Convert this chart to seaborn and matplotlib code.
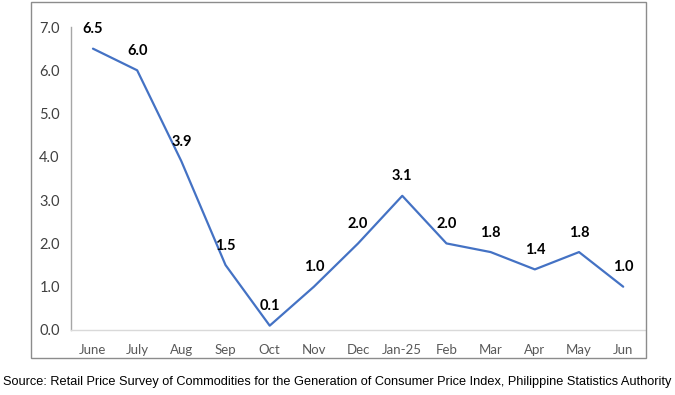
import numpy as np
import pandas as pd
import seaborn as sns
import matplotlib.pyplot as plt
from matplotlib.patches import Rectangle

months = ['June', 'July', 'Aug', 'Sep', 'Oct', 'Nov', 'Dec', 'Jan-25',
          'Feb', 'Mar', 'Apr', 'May', 'Jun']
inflation = [6.5, 6.0, 3.9, 1.5, 0.1, 1.0, 2.0, 3.1, 2.0, 1.8, 1.4, 1.8, 1.0]
y_ticks = [0.0, 1.0, 2.0, 3.0, 4.0, 5.0, 6.0, 7.0]

df = pd.DataFrame({'pos': np.arange(len(months)), 'month': months, 'value': inflation})

sns.set_style('white')
plt.rcParams['font.family'] = ['Lato', 'DejaVu Sans']

fig = plt.figure(figsize=(6.75, 3.95), dpi=100)
ax = fig.add_axes([0.105, 0.1646, 0.851, 0.767])

sns.lineplot(data=df, x='pos', y='value', color='#4472C4', linewidth=1.6, ax=ax)

for x, v in zip(df['pos'], df['value']):
    ax.annotate(f'{v:.1f}', (x, v), xytext=(0, 9), textcoords='offset points',
                ha='center', va='bottom', fontsize=10.5, fontweight='bold', color='black')

ax.set_xlim(-0.5, len(months) - 0.5)
ax.set_ylim(0, 7)
ax.set_yticks(y_ticks)
ax.set_yticklabels([f'{t:.1f}' for t in y_ticks], fontsize=10.5, color='#404040')
ax.set_xticks(df['pos'])
ax.set_xticklabels(months, fontsize=9.5, color='#595959')
ax.set_xticks(np.arange(-0.5, len(months)), minor=True)
ax.tick_params(axis='x', which='major', length=0, pad=10)
ax.tick_params(axis='x', which='minor', length=5, color='#d9d9d9', width=1)
ax.tick_params(axis='y', length=4, color='#a6a6a6', width=1, pad=4)
ax.set_xlabel('')
ax.set_ylabel('')

for s in ['top', 'right']:
    ax.spines[s].set_visible(False)
ax.spines['left'].set_color('#a6a6a6')
ax.spines['bottom'].set_color('#d9d9d9')
ax.spines['left'].set_linewidth(1)
ax.spines['bottom'].set_linewidth(1)

fig.patches.append(Rectangle((31 / 675, 37 / 395), 615 / 675, 356 / 395,
                             transform=fig.transFigure, fill=False,
                             edgecolor='#8c8c8c', linewidth=1))

fig.text(3 / 675, 1 - 382 / 395,
         'Source: Retail Price Survey of Commodities for the Generation of Consumer Price Index, Philippine Statistics Authority',
         fontsize=9.15, family=['Liberation Sans', 'DejaVu Sans'], va='center', ha='left', color='black')

fig.savefig('out.png', dpi=100)
